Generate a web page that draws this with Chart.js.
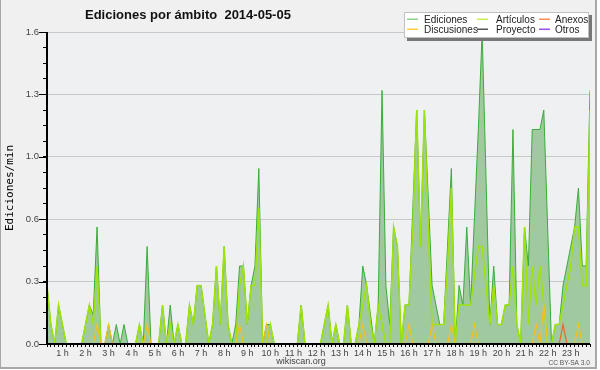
<!DOCTYPE html>
<html><head><meta charset="utf-8">
<script src="https://cdn.jsdelivr.net/npm/chart.js@4.4.0/dist/chart.umd.min.js"></script>
<style>html,body{margin:0;padding:0;background:#fff}</style>
</head><body>
<canvas id="c" width="600" height="370"></canvas>
<script>
// ---- data (edits per minute, one value per 10-minute slot starting 00:20) ----
const firstSlotMinute = 20;
const slotMinutes = 10;
const hourLabels = ['1 h','2 h','3 h','4 h','5 h','6 h','7 h','8 h','9 h','10 h','11 h','12 h','13 h','14 h','15 h','16 h','17 h','18 h','19 h','20 h','21 h','22 h','23 h'];
const yTickLabels = ['0.0','0.3','0.6','1.0','1.3','1.6'];
const seriesNames = ['Ediciones','Artículos','Anexos','Discusiones','Proyecto','Otros'];

const ediciones = [
0.3,0.1,0,0.2,0.1,0,0,0,0,0,
0.1,0.2,0.15,0.6,0,0,0.1,0,0.1,0,
0.1,0,0,0,0.1,0,0.5,0,0,0,
0.2,0,0.2,0,0.1,0,0,0.2,0.1,0.3,
0.3,0.15,0,0.1,0.4,0.1,0.5,0.1,0,0.1,
0.4,0.4,0.1,0.3,0.4,0.9,0,0.1,0.1,0,
0,0,0,0,0,0,0.2,0,0,0,
0,0,0.1,0.2,0,0.1,0,0,0.2,0,
0,0.1,0.4,0.3,0.15,0,0.2,1.3,0.3,0.1,
0.6,0.5,0,0.2,0.2,0.7,1.2,0.5,1.2,0.75,
0.3,0.2,0.1,0.1,0.5,0.9,0,0.3,0.2,0.6,
0.2,0.65,1.1,1.6,0.85,0.1,0.4,0.1,0.1,0.2,
0.2,1.1,0.1,0,0.6,0.4,1.1,1.1,1.1,1.2,
0.6,0,0.1,0.1,0.3,0.4,0.5,0.6,0.8,0.4,
0.4,1.3];

const articulos = [
0.3,0.1,0,0.2,0.1,0,0,0,0,0,
0.1,0.2,0.1,0.4,0,0,0,0,0,0,
0,0,0,0,0.1,0,0,0,0,0,
0.2,0,0.1,0,0.1,0,0,0.2,0.1,0.3,
0.3,0.15,0,0.1,0.4,0.1,0.5,0.1,0,0,
0.3,0.4,0.1,0.3,0.3,0.7,0,0,0.1,0,
0,0,0,0,0,0,0.2,0,0,0,
0,0,0.1,0.2,0,0.1,0,0,0.2,0,
0,0.1,0.2,0.3,0.1,0,0.2,0.1,0,0,
0.6,0.5,0,0.2,0.2,0.6,1.2,0.5,1.2,0.6,
0.1,0.1,0.1,0.1,0.4,0.8,0,0.2,0.2,0.2,
0.2,0.35,0.5,0.5,0.3,0.1,0.3,0.1,0.1,0.2,
0.2,0.4,0.1,0,0.6,0.1,0.4,0.2,0.4,0.2,
0,0,0.1,0.1,0.2,0.3,0.4,0.6,0.6,0.3,
0.3,1.2];

const discusiones = [
0,0,0,0,0,0,0,0,0,0,
0,0,0,0.1,0,0,0.1,0,0,0,
0,0,0,0,0,0,0.1,0,0,0,
0,0,0,0,0,0,0,0,0,0,
0,0,0,0,0,0,0,0,0,0,
0.1,0,0,0,0,0,0,0.1,0,0,
0,0,0,0,0,0,0,0,0,0,
0,0,0,0,0,0,0,0,0,0,
0,0,0.1,0,0,0,0,0,0,0,
0,0,0,0,0.1,0,0,0,0,0,
0.1,0,0,0,0,0.1,0,0,0,0,
0,0.1,0,0,0,0,0,0,0,0,
0,0,0,0,0,0,0,0.1,0,0.2,
0,0,0,0,0,0,0,0,0.1,0,
0,0];

const anexos = [
0,0,0,0,0,0,0,0,0,0,
0,0,0,0,0,0,0,0,0,0,
0,0,0,0,0,0,0,0,0,0,
0,0,0,0,0,0,0,0,0,0,
0,0,0,0,0,0,0,0,0,0,
0,0,0,0,0,0,0,0,0,0,
0,0,0,0,0,0,0,0,0,0,
0,0,0,0,0,0,0,0,0,0,
0,0,0,0,0,0,0,0,0,0,
0,0,0,0,0,0,0,0,0,0,
0,0,0,0,0,0,0,0,0,0,
0,0,0,0,0,0,0,0,0,0,
0,0,0,0,0,0,0,0,0,0,
0,0,0,0,0.1,0,0,0,0,0,
0,0];

const proyecto = [
0,0,0,0,0,0,0,0,0,0, 0,0,0,0,0,0,0,0,0,0, 0,0,0,0,0,0,0,0,0,0,
0,0,0,0,0,0,0,0,0,0, 0,0,0,0,0,0,0,0,0,0, 0,0,0,0,0,0,0,0,0,0,
0,0,0,0,0,0,0,0,0,0, 0,0,0,0,0,0,0,0,0,0, 0,0,0,0,0,0,0,0,0,0,
0,0,0,0,0,0,0,0,0,0, 0,0,0,0,0,0,0,0,0,0, 0,0,0,0,0,0,0,0,0,0,
0,0,0,0,0,0,0,0,0,0, 0,0,0,0,0,0,0,0,0,0, 0,0];

const otros = [
0,0,0,0,0,0,0,0,0,0, 0,0,0,0,0,0,0,0,0,0, 0,0,0,0,0,0,0,0,0,0,
0,0,0,0,0,0,0,0,0,0, 0,0,0,0,0,0,0,0,0,0, 0,0,0,0,0,0,0,0,0,0,
0,0,0,0,0,0,0,0,0,0, 0,0,0,0,0,0,0,0,0,0, 0,0,0,0,0,0,0,0,0,0,
0,0,0,0,0,0,0,0,0,0, 0,0,0,0,0,0,0,0,0,0, 0,0,0,0,0,0,0,0,0,0,
0,0,0,0,0,0,0,0,0,0, 0,0,0,0,0,0,0,0,0,0, 0,0];

// ---- styles ----
const colors = {
  edFill:'#a0c9a0', edLine:'#3aad3a', art:'#9ee30a', disc:'#efc21f', anex:'#ee6528',
  proy:'#555555', otros:'#9a4cf0'
};
const legendColors = ['#8fd08f','#c9ee50','#ff8a55','#ffd040','#555555','#9a50ee'];

const toXY = arr => arr.map((v,i)=>({x: firstSlotMinute + i*slotMinutes, y: v}));
const lastMinute = firstSlotMinute + (ediciones.length-1)*slotMinutes;

const deco = {
  id:'deco',
  beforeDraw(chart){
    const {ctx, chartArea:a} = chart;
    ctx.save();
    ctx.fillStyle='#f0f0f0'; ctx.fillRect(0,0,600,370);
    ctx.fillStyle='#eef0f1'; ctx.fillRect(a.left,a.top,a.right-a.left,a.bottom-a.top);
    ctx.restore();
  },
  afterDatasetsDraw(chart){
    const {ctx, chartArea:a, scales:{y}} = chart;
    ctx.save();
    ctx.fillStyle='#000';
    const L=Math.round(a.left), B=Math.round(a.bottom), T=Math.round(a.top), R=Math.round(a.right);
    ctx.fillRect(L-1, B-1, R-L+1, 2);
    ctx.fillRect(L-1, T, 2, B-T);
    y.ticks.forEach((t,i)=>{
      if(i%4===0){ const py=Math.round(y.getPixelForValue(t.value)); ctx.fillRect(L-8, py, 8, 1); }
    });
    ctx.restore();
  },
  afterDraw(chart){
    const ctx = chart.ctx;
    ctx.save();
    // title
    ctx.fillStyle='#111';
    ctx.font='bold 13px "Liberation Sans"';
    ctx.textAlign='left'; ctx.textBaseline='alphabetic';
    ctx.fillText('Ediciones por ámbito  2014-05-05', 85, 18.5);
    // legend box
    ctx.fillStyle='#777'; ctx.fillRect(407,15,185,26);
    ctx.fillStyle='#fff'; ctx.fillRect(404,12,185,26);
    ctx.strokeStyle='#c0c0c0'; ctx.lineWidth=1; ctx.strokeRect(404.5,12.5,184,25);
    const cols=[407,477,539], textOff=[17,19,16], rows=[19.5,29.5];
    ctx.font='10px "Liberation Sans"'; ctx.textBaseline='middle';
    seriesNames.forEach((n,k)=>{
      const c=k%3, r=Math.floor(k/3);
      ctx.fillStyle=legendColors[k];
      ctx.fillRect(cols[c], rows[r]-1, 11, 1.5);
      ctx.fillStyle='#222';
      ctx.fillText(n, cols[c]+textOff[c], rows[r]+0.5);
    });
    // footer
    ctx.textBaseline='alphabetic';
    ctx.fillStyle='#444'; ctx.font='9px "Liberation Sans"'; ctx.textAlign='center';
    ctx.fillText('wikiscan.org', 301, 364);
    ctx.font='6.6px "Liberation Sans"'; ctx.textAlign='right'; ctx.fillStyle='#555';
    ctx.fillText('CC BY-SA 3.0', 590, 365);
    // frame
    ctx.fillStyle='#a8a8a8';
    ctx.fillRect(0,0,1,369);
    ctx.fillRect(595,0,2,369);
    ctx.fillRect(0,367,597,2);
    ctx.fillStyle='#fff';
    ctx.fillRect(597,0,3,370);
    ctx.fillRect(0,369,600,1);
    ctx.restore();
  }
};

new Chart(document.getElementById('c'), {
  type:'line',
  data:{ datasets:[
    {label:seriesNames[0], data:toXY(ediciones), fill:'origin', backgroundColor:colors.edFill, borderColor:colors.edLine, borderWidth:1, order:6},
    {label:seriesNames[4], data:toXY(proyecto), fill:false, borderColor:colors.proy, borderWidth:1, order:5},
    {label:seriesNames[5], data:toXY(otros), fill:false, borderColor:colors.otros, borderWidth:1, order:5},
    {label:seriesNames[1], data:toXY(articulos), fill:false, borderColor:colors.art, borderWidth:1.5, order:3},
    {label:seriesNames[3], data:toXY(discusiones), fill:false, borderColor:colors.disc, borderWidth:1.2, order:2},
    {label:seriesNames[2], data:toXY(anexos), fill:false, borderColor:colors.anex, borderWidth:1.2, order:1}
  ]},
  options:{
    responsive:false, animation:false, devicePixelRatio:1,
    layout:{padding:{left:0,right:10,top:32,bottom:0}},
    elements:{point:{radius:0}, line:{tension:0}},
    plugins:{legend:{display:false}, tooltip:{enabled:false}, title:{display:false}},
    scales:{
      x:{ type:'linear', min:firstSlotMinute, max:lastMinute,
        ticks:{ stepSize:slotMinutes, autoSkip:false, maxRotation:0, minRotation:0, padding:1,
          color:'#444', font:{family:'Liberation Sans', size:9},
          callback:(v)=> (v%60===0 && hourLabels[v/60-1]) ? hourLabels[v/60-1] : '' },
        grid:{ drawOnChartArea:false, drawTicks:true, tickLength:3, tickColor:'#000', tickWidth:1 },
        border:{display:false},
        afterFit:s=>{ s.height=26; }
      },
      y:{ min:0, max:1.6,
        ticks:{ stepSize:0.08, padding:4, color:'#444', font:{family:'Liberation Sans', size:9.5},
          callback:(v,i)=> (i%4===0) ? yTickLabels[i/4] : '' },
        grid:{ color:c=> (c.index%4===0 ? '#c8c8c8' : 'rgba(0,0,0,0)'), lineWidth:1, drawTicks:true, tickLength:4, tickColor:'#000' },
        border:{display:false},
        title:{display:true, text:'Ediciones/min', color:'#000', font:{family:'DejaVu Sans Mono', size:11}, padding:{top:4,bottom:0}},
        afterFit:s=>{ s.width=47; }
      }
    }
  },
  plugins:[deco]
});
</script>
</body></html>
